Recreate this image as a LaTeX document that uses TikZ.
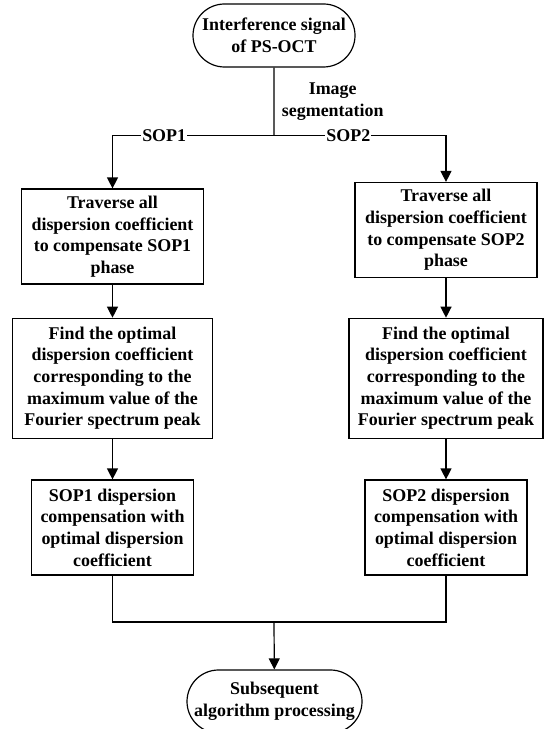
\documentclass[tikz,border=0pt]{standalone}
\usepackage{fontspec}
\setmainfont{Liberation Serif}
\usetikzlibrary{arrows.meta,shapes.misc}

\begin{document}
\begin{tikzpicture}[x=1bp,y=-1bp,>={Triangle[length=11bp,width=11bp]},line width=1.2bp,
  font=\fontsize{18}{21.7}\selectfont\bfseries,
  box/.style={draw,rectangle,align=center,inner sep=0pt},
  term/.style={draw,rounded rectangle,align=center,inner sep=0pt},
  lbl/.style={fill=white,inner xsep=1bp,inner ysep=0pt}]

  \useasboundingbox (0,0) rectangle (545,729);

  % start and end
  \node[term,minimum width=162bp,minimum height=63bp] (start) at (274,35.5) {Interference signal\\of PS-OCT};
  \node[term,minimum width=175bp,minimum height=63bp] (finish) at (274.5,701.5) {Subsequent\\algorithm processing};

  % left branch
  \node[box,minimum width=182bp,minimum height=95bp] (trav1) at (112.5,236.5) {Traverse all\\dispersion coefficient\\to compensate SOP1\\phase};
  \node[box,minimum width=200bp,minimum height=120bp] (find1) at (112.5,378.3) {Find the optimal\\dispersion coefficient\\corresponding to the\\maximum value of the\\Fourier spectrum peak};
  \node[box,minimum width=162bp,minimum height=95bp] (comp1) at (112.5,527.5) {SOP1 dispersion\\compensation with\\optimal dispersion\\coefficient};

  % right branch
  \node[box,minimum width=182bp,minimum height=95bp] (trav2) at (446,230) {Traverse all\\dispersion coefficient\\to compensate SOP2\\phase};
  \node[box,minimum width=194bp,minimum height=120bp] (find2) at (446,378.3) {Find the optimal\\dispersion coefficient\\corresponding to the\\maximum value of the\\Fourier spectrum peak};
  \node[box,minimum width=162bp,minimum height=95bp] (comp2) at (446,527.5) {SOP2 dispersion\\compensation with\\optimal dispersion\\coefficient};

  % split and join points
  \coordinate (split) at (274,135.5);
  \coordinate (join) at (274,622);

  \draw (start) -- node[right,align=center,xshift=4bp] (seg) {Image\\segmentation} (split);
  \draw[->] (split) -| node[lbl,pos=0.34] (sop1) {SOP1} (trav1);
  \draw[->] (split) -| node[lbl,pos=0.216] (sop2) {SOP2} (trav2);

  \draw[->] (trav1) -- (find1);
  \draw[->] (find1) -- (comp1);
  \draw[->] (trav2) -- (find2);
  \draw[->] (find2) -- (comp2);

  \draw (comp1) |- (join);
  \draw (comp2) |- (join);
  \draw[->] (join) -- (finish);

\end{tikzpicture}
\end{document}
